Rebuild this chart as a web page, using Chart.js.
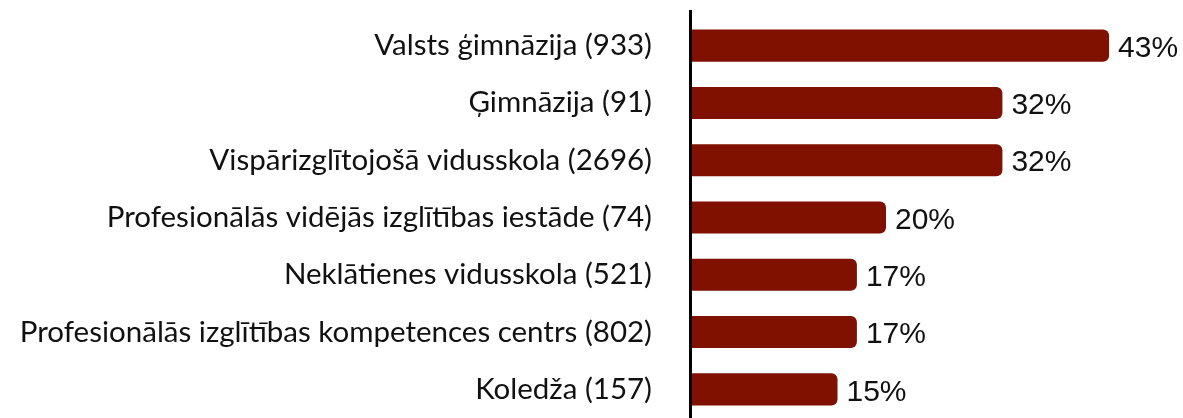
<!DOCTYPE html>
<html>
<head>
<meta charset="utf-8">
<script src="https://cdn.jsdelivr.net/npm/chart.js@4.4.1/dist/chart.umd.min.js"></script>
<style>
  html, body { margin: 0; padding: 0; background: #ffffff; }
  #wrap { width: 1183px; height: 418px; position: relative; }
</style>
</head>
<body>
<div id="wrap"><canvas id="c"></canvas></div>
<script>
const categories = [
  "Valsts ģimnāzija (933)",
  "Ģimnāzija (91)",
  "Vispārizglītojošā vidusskola (2696)",
  "Profesionālās vidējās izglītības iestāde (74)",
  "Neklātienes vidusskola (521)",
  "Profesionālās izglītības kompetences centrs (802)",
  "Koledža (157)"
];
const values = [43, 32, 32, 20, 17, 17, 15];
const valueLabels = ["43%", "32%", "32%", "20%", "17%", "17%", "15%"];

const valueLabelPlugin = {
  id: 'valueLabels',
  afterDatasetsDraw(chart) {
    const ctx = chart.ctx;
    const meta = chart.getDatasetMeta(0);
    ctx.save();
    ctx.font = '30px "Liberation Sans", Arial, sans-serif';
    ctx.fillStyle = '#111111';
    ctx.textBaseline = 'middle';
    ctx.textAlign = 'left';
    meta.data.forEach((bar, i) => {
      ctx.fillText(valueLabels[i], bar.x + 9, bar.y + 3);
    });
    ctx.restore();
  }
};

const axisLinePlugin = {
  id: 'axisLine',
  afterDatasetsDraw(chart) {
    const ctx = chart.ctx;
    const x = chart.scales.x.getPixelForValue(0) - 1.5;
    ctx.save();
    ctx.strokeStyle = '#000000';
    ctx.lineWidth = 3;
    ctx.beginPath();
    ctx.moveTo(x, 10);
    ctx.lineTo(x, chart.height);
    ctx.stroke();
    ctx.restore();
  }
};

new Chart(document.getElementById('c'), {
  type: 'bar',
  data: {
    labels: categories,
    datasets: [{
      data: values,
      backgroundColor: '#801000',
      borderRadius: 6,
      borderSkipped: 'start',
      barPercentage: 0.56,
      categoryPercentage: 1.0
    }]
  },
  options: {
    indexAxis: 'y',
    responsive: true,
    maintainAspectRatio: false,
    animation: false,
    layout: { padding: { top: 17, right: 6, bottom: 0, left: 0 } },
    plugins: {
      legend: { display: false },
      tooltip: { enabled: false }
    },
    scales: {
      x: {
        display: false,
        min: 0,
        max: 50
      },
      y: {
        grid: { display: false, drawTicks: false },
        border: { display: false },
        ticks: {
          padding: 40,
          color: '#111111',
          font: { family: 'Lato', size: 29.5 }
        },
        afterFit(scale) {
          scale.width = 692;
          scale.paddingTop = 0;
          scale.paddingBottom = 0;
        }
      }
    }
  },
  plugins: [valueLabelPlugin, axisLinePlugin]
});
</script>
</body>
</html>
